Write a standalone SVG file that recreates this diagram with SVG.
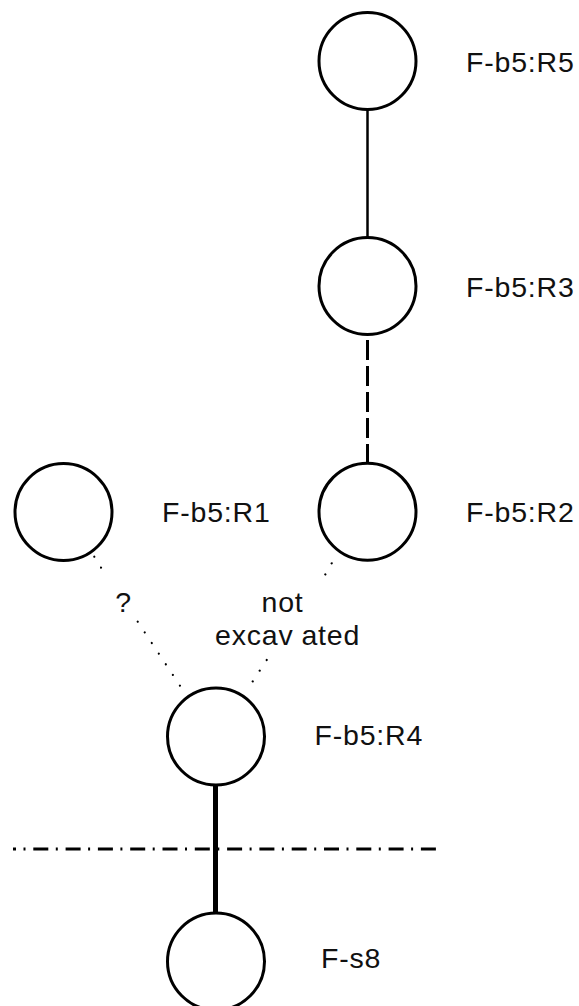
<svg xmlns="http://www.w3.org/2000/svg" width="579" height="1006" viewBox="0 0 579 1006">
<style>
.node{fill:#fff;stroke:#000;stroke-width:3}
.lbl{font-family:"Liberation Sans",Arial,sans-serif;font-size:28.5px;fill:#111;letter-spacing:0.8px}
.dot{fill:none;stroke:#000;stroke-width:2.2;stroke-linecap:round;stroke-dasharray:0.01 12.75}
</style>
<rect width="579" height="1006" fill="#fff"/>
<g id="connectors">
<line x1="367.5" y1="109" x2="367.5" y2="238" stroke="#000" stroke-width="2.5"/>
<line x1="367.5" y1="340" x2="367.5" y2="464" stroke="#000" stroke-width="3" stroke-dasharray="20 6"/>
<path class="dot" d="M94.3 556.7 L107.7 578.3 M137.7 621.7 L180 685.7"/>
<path class="dot" d="M331.7 563.3 L325 575 M266.7 660 L246 691.7"/>
<line x1="215.5" y1="784" x2="215.5" y2="914" stroke="#000" stroke-width="5"/>
</g>
<g id="boundary">
<line x1="13" y1="849" x2="436" y2="849" stroke="#000" stroke-width="3" stroke-dasharray="15 7.5 2 7.8" stroke-dashoffset="12"/>
</g>
<g id="R5"><circle class="node" cx="367.5" cy="61" r="48.5"/><text class="lbl" x="466" y="72.3">F-b5:R5</text></g>
<g id="R3"><circle class="node" cx="367.5" cy="286" r="48.5"/><text class="lbl" x="466" y="297">F-b5:R3</text></g>
<g id="R2"><circle class="node" cx="367.5" cy="511.7" r="48.5"/><text class="lbl" x="466" y="522">F-b5:R2</text></g>
<g id="R1"><circle class="node" cx="63.5" cy="512" r="48.5"/><text class="lbl" x="162" y="522">F-b5:R1</text></g>
<g id="R4"><circle class="node" cx="216" cy="736.5" r="48.5"/><text class="lbl" x="314.5" y="745">F-b5:R4</text></g>
<g id="s8"><circle class="node" cx="216" cy="961.5" r="48.5"/><text class="lbl" x="321" y="968.3">F-s8</text></g>
<g id="edge-labels">
<text class="lbl" x="123.5" y="612" text-anchor="middle" letter-spacing="0">?</text>
<text class="lbl" x="282.5" y="612" text-anchor="middle">not</text>
<text class="lbl" x="215" y="645">excav<tspan dx="8">ated</tspan></text>
</g>
</svg>
